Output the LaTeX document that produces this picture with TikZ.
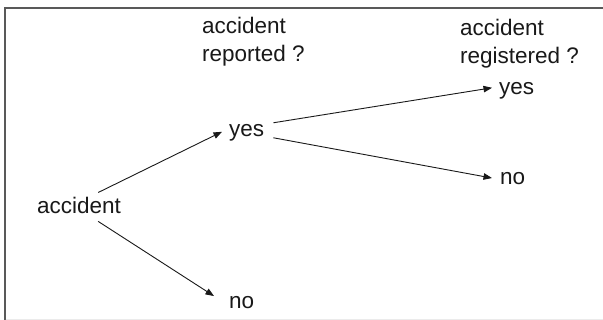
\documentclass[tikz,border=0pt]{standalone}
\usepackage{fontspec}
\setmainfont{Liberation Sans}
\usetikzlibrary{arrows.meta}
\begin{document}
\begin{tikzpicture}[x=1pt,y=-1pt,
  lbl/.style={inner sep=0pt,anchor=base west,font=\fontsize{22.5}{28}\selectfont,text=black!90},
  hdr/.style={lbl,align=left},
  arr/.style={-{Triangle[length=8.5pt,width=6.5pt]},line width=0.9pt,draw=black!90},
  frame/.style={line width=2pt,draw=black!65}]
\useasboundingbox[fill=white] (0,0) rectangle (603,320);
\draw[frame] (4.5,320) -- (4.5,8.5) -- (603,8.5);
\draw[line width=1pt,draw=black!8] (5.5,319.5) -- (603,319.5);
\node[lbl] (acc) at (37,214) {accident};
\node[hdr] (h1) at (202,62) {accident\\reported ?};
\node[hdr] (h2) at (460,64) {accident\\registered ?};
\node[lbl] (yes1) at (229,137) {yes};
\node[lbl] (no1) at (229,309) {no};
\node[lbl] (yes2) at (499,95) {yes};
\node[lbl] (no2) at (500,185) {no};
\draw[arr] ([shift={(-23,-5)}]acc.north east) -- ([shift={(-7,-1.5)}]yes1.west);
\draw[arr] ([shift={(-23,7)}]acc.south east) -- ([shift={(-15,-7)}]no1.west);
\draw[arr] ([shift={(9,-10.5)}]yes1.east) -- ([shift={(-7,-3.5)}]yes2.west);
\draw[arr] ([shift={(9,4.5)}]yes1.east) -- ([shift={(-8,-1)}]no2.west);
\end{tikzpicture}
\end{document}
